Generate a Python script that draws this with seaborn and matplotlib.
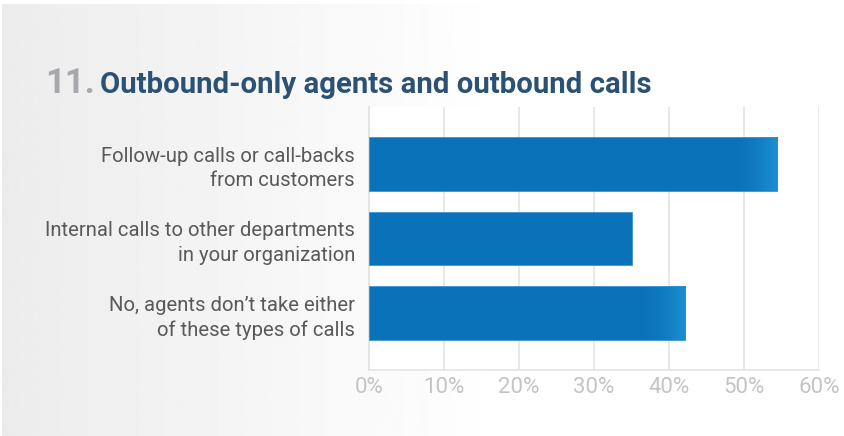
import numpy as np
import pandas as pd
import matplotlib
matplotlib.use("Agg")
import matplotlib.pyplot as plt
import matplotlib.colors as mcolors
import seaborn as sns

# data
categories = [
    "Follow-up calls or call-backs\nfrom customers",
    "Internal calls to other departments\nin your organization",
    "No, agents don\u2019t take either\nof these types of calls",
]
values = [54.4, 35.1, 42.1]
xticks = [0, 10, 20, 30, 40, 50, 60]
xtick_labels = [f"{t}%" for t in xticks]
shine = [True, False, True]

BAR = "#0a72b9"
BAR_LIGHT = "#1d8fd2"
TITLE_BLUE = "#2b5275"
NUM_GRAY = "#a6a8ab"
LABEL_GRAY = "#58595b"
TICK_GRAY = "#c3c4c6"
GRID = "#e4e4e4"

sns.set_theme(style="white")
plt.rcParams["font.family"] = ["Roboto", "DejaVu Sans"]

fig = plt.figure(figsize=(8.44, 4.36), dpi=100)


def fit_width(txt, target_px):
    """Scale a text's font size so it spans roughly target_px."""
    r = fig.canvas.get_renderer()
    for _ in range(3):
        w = txt.get_window_extent(renderer=r).width
        txt.set_fontsize(txt.get_fontsize() * target_px / w)


# background panel with left-to-right grey gradient
bg = fig.add_axes([0, 0, 1, 1], zorder=-10)
grad = np.clip(np.linspace(0, 1, 844) / 0.6, 0, 1)
shade = 0.925 + (1 - 0.925) * grad
bg.imshow(np.tile(shade, (2, 1)), cmap="gray", vmin=0, vmax=1, aspect="auto",
          extent=[2, 844, 0, 431])
bg.set_xlim(0, 844)
bg.set_ylim(0, 436)
bg.axis("off")

ax = fig.add_axes([0.4372, 0.1514, 0.5335, 0.6032])
ax.set_facecolor("white")

df = pd.DataFrame({"category": categories, "value": values})
sns.barplot(data=df, x="value", y="category", orient="h", color=BAR,
            saturation=1, width=0.72, edgecolor="#3d93d3", linewidth=0.6,
            ax=ax, zorder=3)

# lighter sheen at the end of some bars (fades in from transparent)
light = mcolors.to_rgb(BAR_LIGHT)
cmap = mcolors.LinearSegmentedColormap.from_list(
    "sheen", [(*light, 0.0), (*light, 1.0)])
for patch, val, s in zip(ax.patches, values, shine):
    if not s:
        continue
    y0 = patch.get_y()
    h = patch.get_height()
    g = np.linspace(0, 1, 128) ** 1.6
    im = ax.imshow(np.tile(g, (2, 1)), cmap=cmap, aspect="auto",
                   interpolation="bilinear",
                   extent=[val - 6.0, val, y0 + h, y0], zorder=4)
    im.set_clip_path(patch)

ax.set_xlim(0, 60)
ax.set_ylim(2.763, -0.763)
ax.set_xticks(xticks)
ax.set_xticklabels(xtick_labels)
ax.grid(True, axis="x", color=GRID, linewidth=1.2, zorder=0)
ax.set_axisbelow(True)
for side in ["top", "right"]:
    ax.spines[side].set_visible(False)
ax.spines["left"].set_color(GRID)
ax.spines["bottom"].set_color(GRID)
ax.spines["left"].set_linewidth(1.4)
ax.spines["bottom"].set_linewidth(1.2)
ax.set_xlabel("")
ax.set_ylabel("")
ax.tick_params(axis="x", length=0, pad=5, labelsize=16, labelcolor=TICK_GRAY)
ax.tick_params(axis="y", length=0, pad=10, labelsize=14.6, labelcolor=LABEL_GRAY)
for lbl in ax.get_yticklabels():
    lbl.set_linespacing(1.35)

# title
fig.text(45 / 844, 1 - 93 / 436, "11.", fontsize=25, fontweight="bold",
         color=NUM_GRAY, ha="left", va="baseline")
title = fig.text(100 / 844, 1 - 93 / 436, "Outbound-only agents and outbound calls",
                 fontsize=22, fontweight="bold", color=TITLE_BLUE, ha="left",
                 va="baseline")
fit_width(title, 551)

fig.savefig("out.png", dpi=100)
